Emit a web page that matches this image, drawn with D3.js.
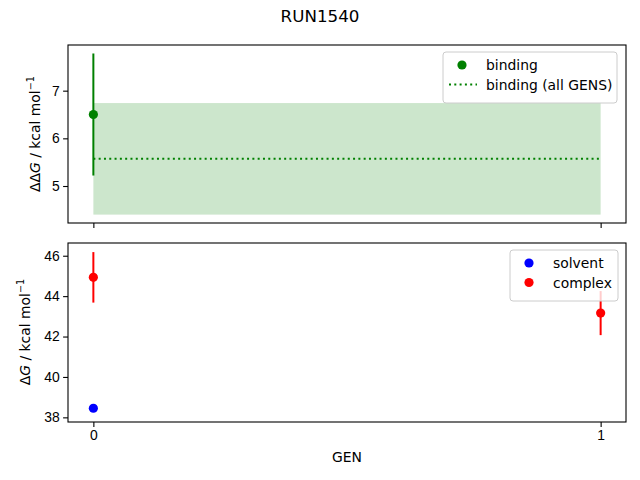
<!DOCTYPE html>
<html>
<head>
<meta charset="utf-8">
<script src="https://cdn.jsdelivr.net/npm/d3@7"></script>
<style>
  body { margin: 0; background: #fff; }
  svg { font-family: "DejaVu Sans", sans-serif; }
  .tick text { font-size: 13.9px; fill: #000; }
  .domain { display: none; }
</style>
</head>
<body>
<div id="cont"></div>
<script>

// data
var gens = [0, 1];
var bindingGen = [0];
var bindingVal = [6.50];
var bindingErr = [1.28];
var bindingAll = 5.57;
var bindingAllErr = 1.17;

var solventGen = [0];
var solventVal = [38.45];
var solventErr = [0.08];

var complexGen = [0, 1];
var complexVal = [44.93, 43.16];
var complexErr = [1.25, 1.09];

var topTicks = [5, 6, 7];
var botTicks = [38, 40, 42, 44, 46];

var W = 640, H = 480;
var left = 68, right = 626;

var svg = d3.select("#cont").append("svg")
  .attr("width", W).attr("height", H);

svg.append("rect").attr("width", W).attr("height", H).attr("fill", "#fff");

svg.append("text")
  .attr("x", W / 2).attr("y", 22)
  .attr("text-anchor", "middle")
  .style("font-size", "16.7px")
  .text("RUN1540");

var xScale = d3.scaleLinear().domain([-0.05, 1.05]).range([left, right]);

function panel(top, bottom, ydomain, ticks, showLabels) {
  var yScale = d3.scaleLinear().domain(ydomain).range([bottom, top]);
  var g = svg.append("g");

  g.append("g")
    .attr("transform", "translate(0," + bottom + ")")
    .call(d3.axisBottom(xScale).tickValues(gens).tickSize(4.9).tickPadding(3.5)
      .tickFormat(showLabels ? d3.format("d") : ""));

  g.append("g")
    .attr("transform", "translate(" + left + ",0)")
    .call(d3.axisLeft(yScale).tickValues(ticks).tickSize(4.9).tickPadding(3.5)
      .tickFormat(d3.format("d")));

  g.selectAll(".tick line").attr("stroke", "#000").attr("stroke-width", 1.1);

  return { g: g, y: yScale, top: top, bottom: bottom };
}

function frame(p) {
  p.g.append("rect")
    .attr("x", left).attr("y", p.top)
    .attr("width", right - left).attr("height", p.bottom - p.top)
    .attr("fill", "none").attr("stroke", "#000").attr("stroke-width", 1.1);
}

function errPoints(p, xs, vals, errs, color) {
  p.g.selectAll(null)
    .data(xs).enter().append("line")
    .attr("x1", function(d) { return xScale(d); })
    .attr("x2", function(d) { return xScale(d); })
    .attr("y1", function(d, i) { return p.y(vals[i] - errs[i]); })
    .attr("y2", function(d, i) { return p.y(vals[i] + errs[i]); })
    .attr("stroke", color).attr("stroke-width", 2);
  p.g.selectAll(null)
    .data(xs).enter().append("circle")
    .attr("cx", function(d) { return xScale(d); })
    .attr("cy", function(d, i) { return p.y(vals[i]); })
    .attr("r", 4.6)
    .attr("fill", color);
}

function legend(p, x, y, w, items) {
  var h = 12 + items.length * 19.5;
  var lg = p.g.append("g").attr("transform", "translate(" + x + "," + y + ")");
  lg.append("rect")
    .attr("width", w).attr("height", h).attr("rx", 3)
    .attr("fill", "#fff").attr("fill-opacity", 0.8)
    .attr("stroke", "#ccc").attr("stroke-width", 1);
  items.forEach(function(it, i) {
    var cy = 13 + i * 19.5;
    if (it.kind == "dot") {
      lg.append("circle").attr("cx", 19).attr("cy", cy).attr("r", 4.6).attr("fill", it.color);
    } else {
      lg.append("line").attr("x1", 6).attr("x2", 34).attr("y1", cy).attr("y2", cy)
        .attr("stroke", it.color).attr("stroke-width", 2).attr("stroke-dasharray", "2,3.3");
    }
    lg.append("text").attr("x", 43).attr("y", cy + 5)
      .style("font-size", "13.9px").text(it.label);
  });
}

function ylabel(x, cy, prefix) {
  var t = svg.append("text")
    .attr("transform", "translate(" + x + "," + cy + ") rotate(-90)")
    .attr("text-anchor", "middle")
    .style("font-size", "13.9px");
  t.append("tspan").text(prefix);
  t.append("tspan").style("font-style", "italic").text("G");
  t.append("tspan").text(" / kcal mol");
  t.append("tspan").attr("dy", -6).style("font-size", "9.7px").text("\u22121");
}

// top panel: binding
var topP = panel(45, 223, [4.224, 7.958], topTicks, false);

topP.g.append("rect")
  .attr("x", xScale(gens[0])).attr("width", xScale(gens[1]) - xScale(gens[0]))
  .attr("y", topP.y(bindingAll + bindingAllErr))
  .attr("height", topP.y(bindingAll - bindingAllErr) - topP.y(bindingAll + bindingAllErr))
  .attr("fill", "green").attr("fill-opacity", 0.2);

topP.g.append("line")
  .attr("x1", xScale(gens[0])).attr("x2", xScale(gens[1]))
  .attr("y1", topP.y(bindingAll)).attr("y2", topP.y(bindingAll))
  .attr("stroke", "green").attr("stroke-width", 2).attr("stroke-dasharray", "2,3.3");

errPoints(topP, bindingGen, bindingVal, bindingErr, "green");
frame(topP);
legend(topP, 443, 52, 174, [
  { kind: "dot", color: "green", label: "binding" },
  { kind: "line", color: "green", label: "binding (all GENS)" }
]);
ylabel(40, 134, "\u0394\u0394");

// bottom panel: solvent / complex
var botP = panel(243, 422, [37.77, 46.63], botTicks, true);
errPoints(botP, solventGen, solventVal, solventErr, "blue");
errPoints(botP, complexGen, complexVal, complexErr, "red");
frame(botP);
legend(botP, 510, 250, 108, [
  { kind: "dot", color: "blue", label: "solvent" },
  { kind: "dot", color: "red", label: "complex" }
]);
ylabel(30, 332, "\u0394");

svg.append("text")
  .attr("x", (left + right) / 2).attr("y", 462)
  .attr("text-anchor", "middle")
  .style("font-size", "13.9px")
  .text("GEN");

</script>
</body>
</html>
